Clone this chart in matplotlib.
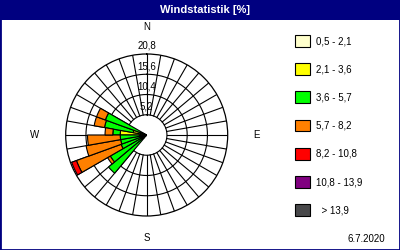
import numpy as np
import matplotlib
matplotlib.use("Agg")
import matplotlib.pyplot as plt
from matplotlib.patches import Rectangle, Patch

plt.rcParams['font.family'] = ['Liberation Sans', 'DejaVu Sans']

# ---- data ----
directions = [225, 235, 245, 255, 265, 275, 285, 295]          # sector centres (deg, from N clockwise)
classes = ['0,5 - 2,1', '2,1 - 3,6', '3,6 - 5,7', '5,7 - 8,2',
           '8,2 - 10,8', '10,8 - 13,9', '  > 13,9']
colors = ['#FFFFCC', '#FFFF00', '#00FF00', '#FF8000', '#FF0000', '#800080', '#48484A']
v_05_21 = [0.3, 0.3, 0.3, 0.3, 0.3, 0.8, 0.5, 0.3]
v_21_36 = [0.7, 0.8, 0.8, 1.0, 1.5, 6.0, 3.0, 0.7]
v_36_57 = [11.8, 9.7, 5.9, 5.5, 5.0, 1.9, 7.5, 10.3]
v_57_82 = [0.0, 0.8, 12.2, 9.0, 8.4, 2.0, 2.7, 2.4]
v_82_108 = [0.0, 0.0, 1.3, 0.0, 0.0, 0.0, 0.0, 0.0]
v_108_139 = [0.0] * 8
v_gt_139 = [0.0] * 8
series = [v_05_21, v_21_36, v_36_57, v_57_82, v_82_108, v_108_139, v_gt_139]
rings = [5.2, 10.4, 15.6, 20.8]
ring_labels = ['5,2', '10,4', '15,6', '20,8']
compass = ['N', 'E', 'S', 'W']
compass_deg = [0, 90, 180, 270]
compass_r = [27.7, 28.1, 26.4, 28.7]
title = 'Windstatistik [%]'
date_text = '6.7.2020'

W, H = 400, 250
fig = plt.figure(figsize=(W / 100, H / 100), dpi=100)
fig.patch.set_facecolor('white')

# title bar and frame
fig.add_artist(Rectangle((0, 1 - 20 / H), 1, 20 / H, transform=fig.transFigure,
                         facecolor='#000080', edgecolor='none', zorder=0))
fig.add_artist(Rectangle((0, 0), 1, 1, transform=fig.transFigure, fill=False,
                         edgecolor='#000080', linewidth=2.0, zorder=10))
fig.text(205 / W, 1 - 10 / H, title, color='white', fontweight='bold', fontsize=8,
         ha='center', va='center')

# polar axes: centre (146.7,135) px, radius 81 px
cx, cy, R = 146.7, 135.0, 81.0
ax = fig.add_axes([(cx - R) / W, (H - cy - R) / H, 2 * R / W, 2 * R / H], projection='polar')
ax.set_theta_zero_location('N')
ax.set_theta_direction(-1)
ax.set_ylim(0, rings[-1])
ax.grid(False)
ax.set_xticks([])
ax.set_yticks([])
ax.spines['polar'].set_linewidth(0.9)
ax.spines['polar'].set_color('black')
ax.patch.set_facecolor('white')

th = np.linspace(0, 2 * np.pi, 721)
for r in rings[:-1]:
    ax.plot(th, np.full_like(th, r), color='black', lw=0.8, zorder=1)
for d in range(0, 360, 10):
    t = np.deg2rad(d)
    ax.plot([t, t], [rings[0], rings[-1]], color='black', lw=0.8, zorder=1)

theta = np.deg2rad(directions)
bottom = np.zeros(len(directions))
for vals, c in zip(series, colors):
    vals = np.array(vals, dtype=float)
    m = vals > 0
    if m.any():
        ax.bar(theta[m], vals[m], width=np.deg2rad(10), bottom=bottom[m], color=c,
               edgecolor='black', linewidth=0.8, zorder=3, align='center')
    bottom += vals

for r, lab in zip(rings, ring_labels):
    ax.text(0, r + 2.1, lab, ha='center', va='center', fontsize=7, clip_on=False, zorder=5)
for lab, d, r in zip(compass, compass_deg, compass_r):
    ax.text(np.deg2rad(d), r, lab, ha='center', va='center', fontsize=7, clip_on=False)

handles = [Patch(facecolor=c, edgecolor='black', linewidth=0.8) for c in colors]
fig.legend(handles, classes, loc='upper left', bbox_to_anchor=(295 / W, 1 - 35 / H),
           frameon=False, fontsize=7, handlelength=1.5, handleheight=1.5,
           labelspacing=1.68, handletextpad=0.65, borderpad=0, borderaxespad=0)

fig.text(385 / W, 1 - 239 / H, date_text, ha='right', va='center', fontsize=7)

fig.savefig('out.png', dpi=100)
